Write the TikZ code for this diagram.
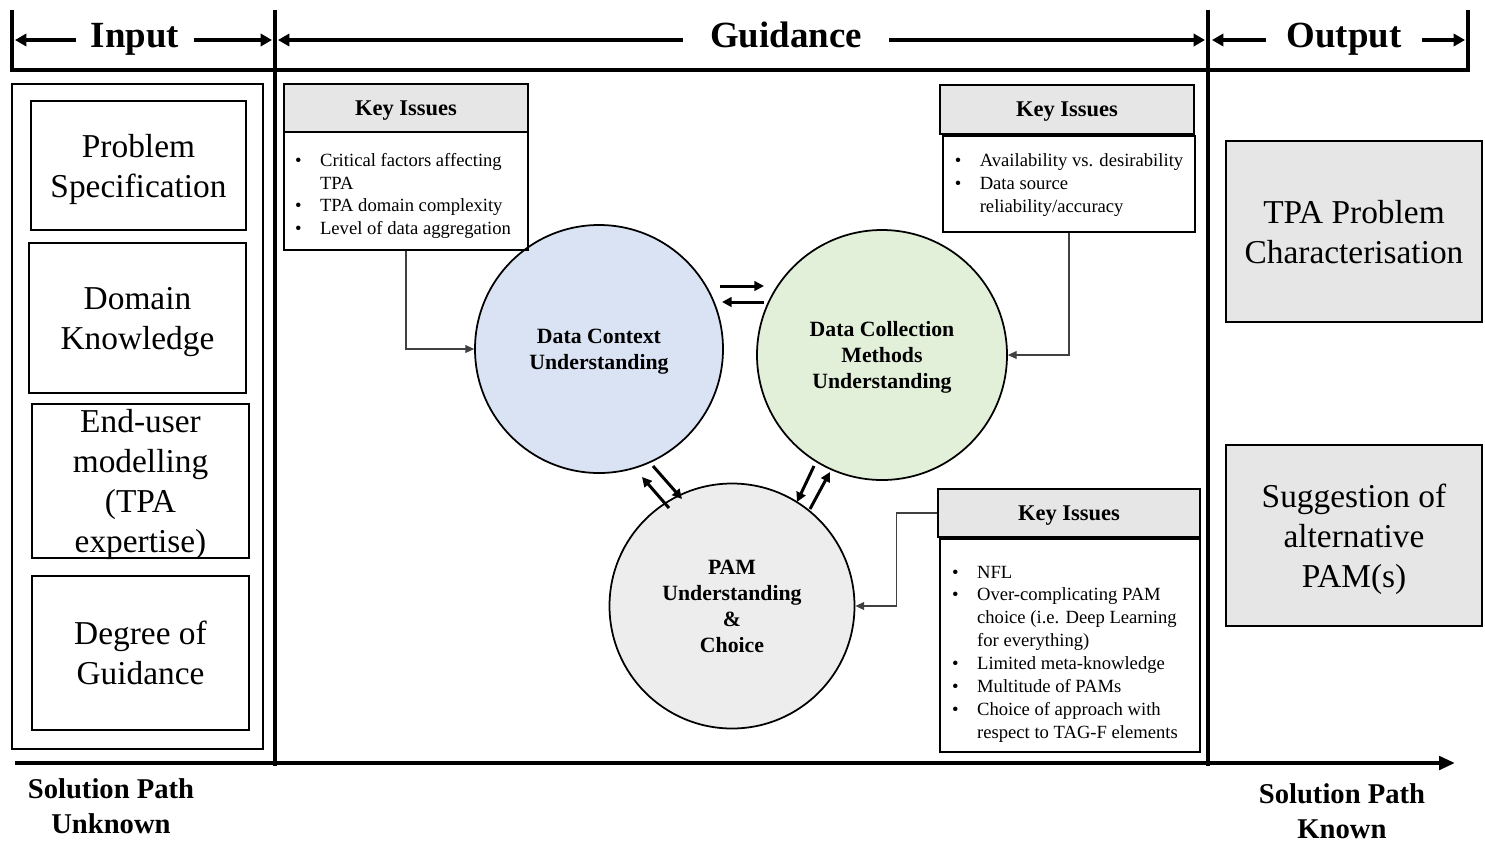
\documentclass[tikz,border=0pt]{standalone}
\usepackage{fontspec}
\setmainfont{Liberation Serif}
\usetikzlibrary{arrows.meta}

\newcommand\px{0.02cm}
\newcommand\headstyle{\fontsize{21}{25}\selectfont\bfseries}
\newcommand\boxtextstyle{\fontsize{19}{22.8}\selectfont}
\newcommand\issuetitlestyle{\fontsize{12.8}{15}\selectfont\bfseries}
\newcommand\issuetextstyle{\fontsize{10.6}{13}\selectfont}
\newcommand\stagetextstyle{\fontsize{12.4}{14.8}\selectfont\bfseries}
\newcommand\pathtextstyle{\fontsize{16.3}{20}\selectfont\bfseries}

\definecolor{contextblue}{HTML}{DAE3F3}
\definecolor{methodgreen}{HTML}{E2F0D9}
\definecolor{pamgray}{HTML}{EDEDED}
\definecolor{issuegray}{HTML}{E7E6E6}

\tikzset{
  frameline/.style={line width=2.8pt},
  headarrow/.style={line width=2.2pt, -{Triangle[length=6.5pt,width=7pt]}},
  headlabel/.style={font=\headstyle, inner ysep=0pt, inner xsep=15*\px, text height=9.1pt, text depth=0pt},
  inbox/.style={draw, line width=1pt, inner sep=0pt, align=center, font=\boxtextstyle, text depth=0pt},
  outbox/.style={inbox, fill=issuegray},
  issuehead/.style={draw, line width=1.1pt, fill=issuegray, inner sep=0pt, font=\issuetitlestyle, text depth=0pt},
  issuebody/.style={draw, line width=1.1pt, inner sep=0pt, font=\issuetextstyle},
  stage/.style={circle, draw, line width=1pt, inner sep=0pt, align=center, font=\stagetextstyle, text depth=0pt},
  link/.style={black!75, line width=0.6pt, -{Triangle[length=5pt,width=4.5pt]}},
  flow/.style={line width=1.7pt, -{Triangle[length=5.5pt,width=5.5pt]}},
  pathlabel/.style={align=center, font=\pathtextstyle},
}

\begin{document}
\begin{tikzpicture}[x=\px, y=-\px]
  \useasboundingbox (0,0) rectangle (1485,863);

  % frame
  \draw[frameline] (12,10) -- (12,70) -- (1468,70) -- (1468,10);
  \draw[frameline] (275,10) -- (275,766);
  \draw[frameline] (1208,10) -- (1208,766);
  \draw[frameline, -{Triangle[length=9pt,width=7.5pt]}] (15,763) -- (1455,763);

  % headings
  \node[headlabel] (input) at (135,40) {Input};
  \node[headlabel, inner xsep=27*\px] (guide) at (786,40) {Guidance};
  \node[headlabel, inner xsep=20*\px] (output) at (1344,40) {Output};
  \coordinate (inL) at (15,40);
  \coordinate (inR) at (272,40);
  \coordinate (gdL) at (278,40);
  \coordinate (gdR) at (1205,40);
  \coordinate (outL) at (1212,40);
  \coordinate (outR) at (1465,40);
  \foreach \n/\c in {input/inL, input/inR, guide/gdL, guide/gdR, output/outL, output/outR}
    \draw[headarrow] (\n) -- (\c);

  % input
  \node[draw, line width=0.9pt, minimum width=251*\px, minimum height=665*\px, inner sep=0pt] (inframe) at (137.5,416.5) {};
  \node[inbox, minimum width=215*\px, minimum height=129*\px] (spec) at (138.5,165.5) {Problem\\Specification};
  \node[inbox, minimum width=217*\px, minimum height=150*\px] (domain) at (137.5,318) {Domain\\Knowledge};
  \node[inbox, minimum width=217*\px, minimum height=154*\px] (enduser) at (140.5,481) {End-user\\modelling\\(TPA\\expertise)};
  \node[inbox, minimum width=217*\px, minimum height=154*\px] (degree) at (140.5,653) {Degree of\\Guidance};

  % output
  \node[outbox, minimum width=256*\px, minimum height=181*\px] (tpa) at (1354,231.5) {TPA Problem\\Characterisation};
  \node[outbox, minimum width=256*\px, minimum height=181*\px] (suggest) at (1354,535.5) {Suggestion of\\alternative\\PAM(s)};

  % stages
  \node[stage, fill=contextblue, minimum size=248*\px] (ctx) at (599,349) {Data Context\\Understanding};
  \node[stage, fill=methodgreen, minimum size=250*\px] (dcm) at (882,355) {Data Collection\\Methods\\Understanding};
  \node[stage, fill=pamgray, minimum size=245*\px] (pam) at (732,606) {PAM\\Understanding\\\&\\Choice};

  \coordinate (cd1) at (720,286); \coordinate (cd2) at (764,286);
  \coordinate (dc1) at (764,302); \coordinate (dc2) at (722,302);
  \coordinate (cp1) at (653,466); \coordinate (cp2) at (682,499);
  \coordinate (pc1) at (669,508); \coordinate (pc2) at (642,477);
  \coordinate (dp1) at (814,466); \coordinate (dp2) at (797,502);
  \coordinate (pd1) at (810,509); \coordinate (pd2) at (830,472);
  \foreach \a/\b in {cd1/cd2, dc1/dc2, cp1/cp2, pc1/pc2, dp1/dp2, pd1/pd2}
    \draw[flow] (\a) -- (\b);

  % key issues
  \node[issuehead, minimum width=244*\px, minimum height=48*\px] (ki1h) at (406,108) {Key Issues};
  \node[issuebody, minimum width=244*\px, minimum height=118*\px] (ki1b) at (406,191) {%
    \begin{tabular}{@{}p{0.5cm}@{}l@{\hspace{0.12cm}}}
      \noalign{\vskip 0.2cm}
      \textbullet & Critical factors affecting\\
                  & TPA\\
      \textbullet & TPA domain complexity\\
      \textbullet & Level of data aggregation
    \end{tabular}};
  \node[issuehead, minimum width=254*\px, minimum height=49*\px] (ki2h) at (1067,109.5) {Key Issues};
  \node[issuebody, minimum width=252*\px, minimum height=96*\px] (ki2b) at (1069,184) {%
    \begin{tabular}{@{}p{0.5cm}@{}l@{}}
      \noalign{\vskip 0.04cm}
      \textbullet & Availability vs. desirability\\
      \textbullet & Data source\\
                  & reliability/accuracy
    \end{tabular}};
  \node[issuehead, minimum width=262*\px, minimum height=48*\px] (ki3h) at (1069,513) {Key Issues};
  \node[issuebody, minimum width=260*\px, minimum height=213*\px] (ki3b) at (1070,645.5) {%
    \begin{tabular}{@{}p{0.5cm}@{}l@{\hspace{0.2cm}}}
      \noalign{\vskip 0.32cm}
      \textbullet & NFL\\
      \textbullet & Over-complicating PAM\\
                  & choice (i.e. Deep Learning\\
                  & for everything)\\
      \textbullet & Limited meta-knowledge\\
      \textbullet & Multitude of PAMs\\
      \textbullet & Choice of approach with\\
                  & respect to TAG-F elements
    \end{tabular}};

  \draw[link] (ki1b.south) |- (ctx.west);
  \draw[link] (ki2b.south) |- (dcm.east);
  \draw[link] (ki3h.west) -- ++(-41,0) |- (pam.east);

  % solution path
  \node[pathlabel] (unknown) at (111,806) {Solution Path\\Unknown};
  \node[pathlabel] (known) at (1342,811) {Solution Path\\Known};
\end{tikzpicture}
\end{document}
